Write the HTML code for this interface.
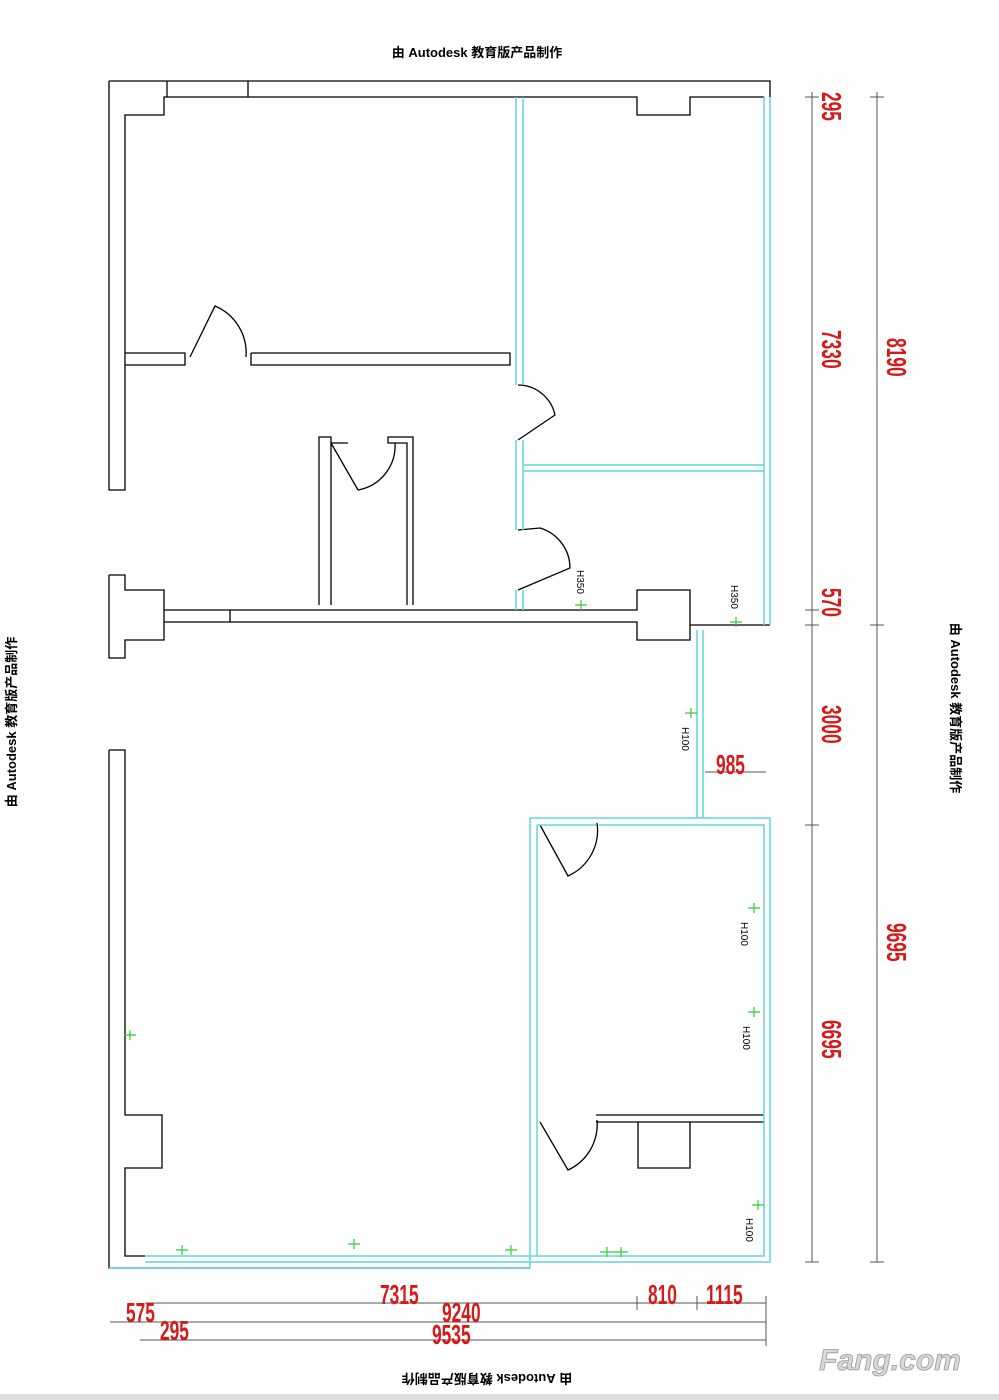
<!DOCTYPE html>
<html><head><meta charset="utf-8"><style>
html,body{margin:0;padding:0;background:#fff}
svg{display:block}
.w{fill:none;stroke:#000;stroke-width:1.3}
.c{fill:none;stroke:#5fd8d8;stroke-width:1.5}
.d{fill:none;stroke:#555;stroke-width:1}
.r{fill:#d61a1a;font-family:"Liberation Sans",sans-serif;font-size:28px;font-weight:bold}
.t{font-family:"Liberation Sans","Noto Sans CJK SC",sans-serif;font-size:13px;font-weight:bold;fill:#000}
.g{fill:none;stroke:#3c3;stroke-width:1.2}
.s{font-family:"Liberation Sans",sans-serif;font-size:10px;fill:#000}
</style></head><body>
<svg width="999" height="1400" viewBox="0 0 999 1400" xmlns="http://www.w3.org/2000/svg">
<rect width="999" height="1400" fill="#fff"/>
<text class="t" x="477" y="57" text-anchor="middle">由 Autodesk 教育版产品制作</text>
<text class="t" transform="translate(16,722) rotate(-90)" text-anchor="middle">由 Autodesk 教育版产品制作</text>
<text class="t" transform="translate(951,708) rotate(90)" text-anchor="middle">由 Autodesk 教育版产品制作</text>
<text class="t" transform="translate(487,1374) rotate(180)" text-anchor="middle">由 Autodesk 教育版产品制作</text>

<path class="w" d="M109,81 H770 V97 M109,81 V490 H125 V115 H164 V97 H248 V81 M167,81 V97 M248,97 H637 V115 H690 V97 H764"/>
<path class="w" d="M125,353 H185 V365 H125 M251,353 H510 V365 H251 V353"/>
<path class="w" d="M190,357 L215,306 A51,51 0 0 1 246,357"/>
<path class="w" d="M518,440 L555,415 A38,38 0 0 0 518,385"/>
<path class="w" d="M518,530 L540,528 A42,42 0 0 1 570,568 L518,590"/>
<path class="w" d="M319,605 V437 H331 V605 M413,605 V437 H388 V443 H407 V605 M331,443 H348"/>
<path class="w" d="M358,490 L331,443 M358,490 A45,45 0 0 0 395,443"/>
<path class="w" d="M109,575 H125 V590 H164 V610 H637 V590 H690 V625 H770 M109,575 V658 H125 V640 H164 V622 H637 V640 H690 V625 M164,610 V622 M230,610 V622"/>
<path class="w" d="M109,750 H125 V1115 H162 V1168 H125 V1256 H145 M109,750 V1268 H530"/>
<path class="w" d="M596,1115 H764 M596,1122 H764 M638,1122 V1168 H690 V1122"/>
<path class="w" d="M540,1122 L568,1170 A50,50 0 0 0 597,1120"/>
<path class="w" d="M540,825 L568,876 A50,50 0 0 0 597,823"/>
<path class="c" d="M516,97 V385 M523,97 V385 M516,440 V530 M523,440 V530 M516,590 V610 M523,590 V610 M764,97 V625 M770,97 V625 M523,465 H764 M523,471 H764"/>
<path class="c" d="M697,630 V818 M703,630 V818 M530,818 H770 V1262 H145 M537,825 H596 M599,825 H764 V1256 H145 M530,818 V1262 M537,825 V1256 M537,1120 V1256"/>
<path class="c" d="M109,1268 H530 V1262" />
<g class="g">
<path d="M575,605 H587 M581,600 V610"/><path d="M730,622 H742 M736,617 V627"/>
<path d="M685,713 H697 M691,708 V718"/><path d="M748,908 H760 M754,903 V913"/>
<path d="M748,1012 H760 M754,1007 V1017"/><path d="M752,1205 H764 M758,1200 V1210"/>
<path d="M124,1035 H136 M130,1030 V1040"/><path d="M176,1250 H188 M182,1245 V1255"/>
<path d="M348,1244 H360 M354,1239 V1249"/><path d="M505,1250 H517 M511,1245 V1255"/>
<path d="M600,1252 H628 M607,1247 V1257 M621,1247 V1257"/>
</g>
<text class="s" transform="translate(577,570) rotate(90)">H350</text>
<text class="s" transform="translate(731,585) rotate(90)">H350</text>
<text class="s" transform="translate(682,727) rotate(90)">H100</text>
<text class="s" transform="translate(741,922) rotate(90)">H100</text>
<text class="s" transform="translate(743,1026) rotate(90)">H100</text>
<text class="s" transform="translate(746,1218) rotate(90)">H100</text>
<path class="d" d="M812,92 V1262 M877,92 V1262 M805,97 H819 M805,610 H819 M805,625 H819 M805,825 H819 M805,1262 H819 M870,97 H884 M870,625 H884 M870,1262 H884 M705,772 H766"/>
<path class="d" d="M145,1303 H766 M110,1322 H766 M140,1340 H766 M637,1296 V1310 M697,1296 V1310 M766,1296 V1346"/>
<g class="r">
<text transform="translate(822,92) rotate(90) scale(0.62,1)">295</text>
<text transform="translate(822,330) rotate(90) scale(0.62,1)">7330</text>
<text transform="translate(887,338) rotate(90) scale(0.62,1)">8190</text>
<text transform="translate(822,588) rotate(90) scale(0.62,1)">570</text>
<text transform="translate(822,705) rotate(90) scale(0.62,1)">3000</text>
<text transform="translate(887,923) rotate(90) scale(0.62,1)">9695</text>
<text transform="translate(822,1020) rotate(90) scale(0.62,1)">6695</text>
<text transform="translate(716,774) scale(0.62,1)">985</text>
<text transform="translate(380,1304) scale(0.62,1)">7315</text>
<text transform="translate(648,1304) scale(0.62,1)">810</text>
<text transform="translate(706,1304) scale(0.62,1)">1115</text>
<text transform="translate(126,1322) scale(0.62,1)">575</text>
<text transform="translate(442,1322) scale(0.62,1)">9240</text>
<text transform="translate(160,1340) scale(0.62,1)">295</text>
<text transform="translate(432,1344) scale(0.62,1)">9535</text>
</g>
<text x="890" y="1370" text-anchor="middle" font-family="Liberation Sans,sans-serif" font-size="30" font-weight="bold" font-style="italic" fill="#d8d8d8" stroke="#999" stroke-width="0.8">Fang.com</text>
<rect x="0" y="1394" width="999" height="6" fill="#ddd"/>
</svg>
</body></html>
